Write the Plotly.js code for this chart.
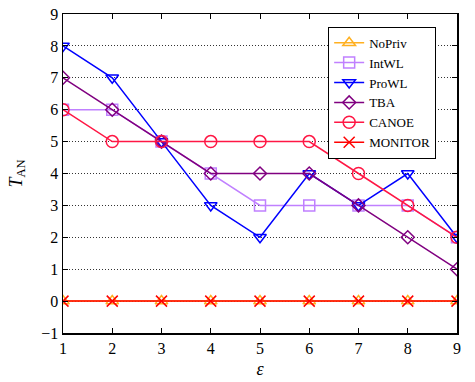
<!DOCTYPE html>
<html>
<head>
<meta charset="utf-8">
<script src="https://cdn.plot.ly/plotly-3.0.1.min.js"></script>
<style>html,body{margin:0;padding:0;background:#fff;}#chart{width:475px;height:382px;}</style>
</head>
<body>
<div id="chart"></div>
<script>
const epsilon = [1, 2, 3, 4, 5, 6, 7, 8, 9];
const seriesNames = ["NoPriv", "IntWL", "ProWL", "TBA", "CANOE", "MONITOR"];
const noPriv  = [0, 0, 0, 0, 0, 0, 0, 0, 0];
const intWL   = [6, 6, 5, 4, 3, 3, 3, 3, 2];
const proWL   = [8, 7, 5, 3, 2, 4, 3, 4, 2];
const tba     = [7, 6, 5, 4, 4, 4, 3, 2, 1];
const canoe   = [6, 5, 5, 5, 5, 5, 4, 3, 2];
const monitor = [0, 0, 0, 0, 0, 0, 0, 0, 0];

const values = [noPriv, intWL, proWL, tba, canoe, monitor];
const colors = ["#FFB020", "#C080FF", "#0000FF", "#800080", "#FF1744", "#FF0000"];
const symbols = ["triangle-up-open", "square-open", "triangle-down-open", "diamond-open", "circle-open", "x-thin-open"];
const sizes = [11, 11, 11, 10, 12, 11];

const traces = seriesNames.map((name, i) => ({
  x: epsilon,
  y: values[i],
  name: name,
  type: "scatter",
  mode: "lines+markers",
  line: {color: colors[i], width: 1.5},
  marker: {symbol: symbols[i], size: sizes[i], color: colors[i], line: {color: colors[i], width: 1.5}}
}));

const font = {family: "Liberation Serif, Times New Roman, serif", size: 16, color: "#000"};

const layout = {
  width: 475, height: 382,
  margin: {l: 63, r: 18, t: 14, b: 49},
  paper_bgcolor: "#fff", plot_bgcolor: "#fff",
  font: font,
  showlegend: true,
  legend: {
    x: 0.673, y: 0.96, xanchor: "left", yanchor: "top",
    bordercolor: "#000", borderwidth: 1, bgcolor: "#fff",
    font: {family: font.family, size: 13, color: "#000"},
    tracegroupgap: 0, itemwidth: 30
  },
  xaxis: {
    range: [1, 9], dtick: 1, tick0: 1,
    showgrid: false, zeroline: false,
    showline: true, linecolor: "#000", linewidth: 1.5, mirror: "ticks",
    ticks: "inside", ticklen: 5, tickcolor: "#000",
    tickfont: font,
    title: {text: "<i>ε</i>", font: {family: font.family, size: 18, color: "#000"}, standoff: 6}
  },
  yaxis: {
    range: [-1, 9], dtick: 1, tick0: -1,
    showgrid: true, gridcolor: "#333", griddash: "1px,2px", gridwidth: 1,
    zeroline: false,
    showline: true, linecolor: "#000", linewidth: 1.5, mirror: "ticks",
    ticks: "inside", ticklen: 5, tickcolor: "#000",
    tickfont: font,
    title: {text: "<i>T</i><sub>AN</sub>", font: {family: font.family, size: 18, color: "#000"}, standoff: 14}
  }
};

Plotly.newPlot("chart", traces, layout, {displayModeBar: false, staticPlot: true});
</script>
</body>
</html>
